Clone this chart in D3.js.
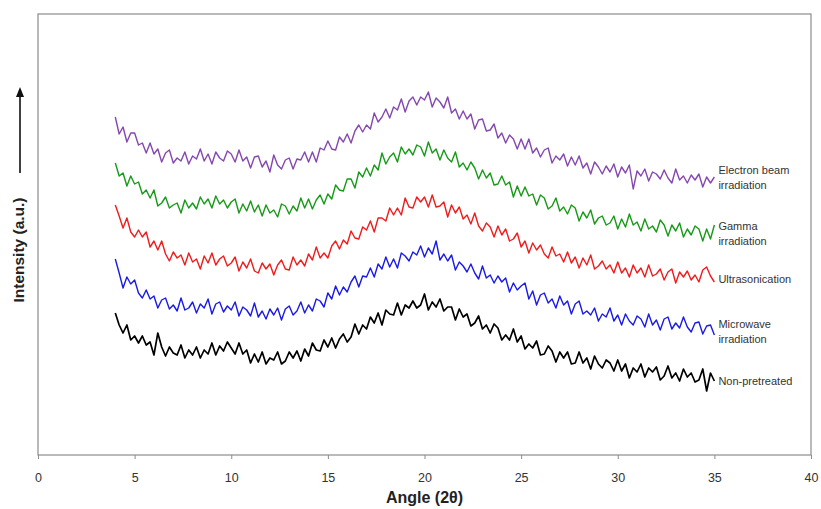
<!DOCTYPE html>
<html>
<head>
<meta charset="utf-8">
<script src="https://cdn.jsdelivr.net/npm/d3@7"></script>
<style>
  body { margin: 0; background: #fff; }
  svg { display: block; font-family: Arial, "Liberation Sans", sans-serif; }
</style>
</head>
<body>
<script>
const width = 821
const height = 509

// Angle (2θ) of each sample
const angles = [
  4.0,4.2,4.4,4.6,4.8, 5.0,5.2,5.4,5.6,5.8, 6.0,6.2,6.4,6.6,6.8, 7.0,7.2,7.4,7.6,7.8,
  8.0,8.2,8.4,8.6,8.8, 9.0,9.2,9.4,9.6,9.8, 10.0,10.2,10.4,10.6,10.8, 11.0,11.2,11.4,11.6,11.8,
  12.0,12.2,12.4,12.6,12.8, 13.0,13.2,13.4,13.6,13.8, 14.0,14.2,14.4,14.6,14.8, 15.0,15.2,15.4,15.6,15.8,
  16.0,16.2,16.4,16.6,16.8, 17.0,17.2,17.4,17.6,17.8, 18.0,18.2,18.4,18.6,18.8, 19.0,19.2,19.4,19.6,19.8,
  20.0,20.2,20.4,20.6,20.8, 21.0,21.2,21.4,21.6,21.8, 22.0,22.2,22.4,22.6,22.8, 23.0,23.2,23.4,23.6,23.8,
  24.0,24.2,24.4,24.6,24.8, 25.0,25.2,25.4,25.6,25.8, 26.0,26.2,26.4,26.6,26.8, 27.0,27.2,27.4,27.6,27.8,
  28.0,28.2,28.4,28.6,28.8, 29.0,29.2,29.4,29.6,29.8, 30.0,30.2,30.4,30.6,30.8, 31.0,31.2,31.4,31.6,31.8,
  32.0,32.2,32.4,32.6,32.8, 33.0,33.2,33.4,33.6,33.8, 34.0,34.2,34.4,34.6,34.8, 35.0
]

// intensities (a.u., curves stacked with offsets as in the figure)
const electronBeam = [
  338,321,328,313,322, 322,310,312,302,312, 301,306,293,302,305, 292,297,294,303,291,
  299,296,306,294,301, 291,303,297,294,304, 301,293,305,294,298, 287,298,299,288,294,
  283,300,290,286,295, 297,286,296,295,303, 293,303,293,307,305, 314,306,305,318,313,
  321,312,324,330,323, 330,326,342,333,338, 346,337,348,345,356, 343,354,358,350,358,
  355,363,348,357,353, 347,358,342,346,336, 344,336,341,326,335, 336,324,325,331,317,
  322,312,320,316,306, 316,306,316,302,307, 298,305,307,292,299, 295,301,289,298,290,
  299,287,292,281,293, 288,281,289,283,291, 278,288,282,290,266, 284,279,286,274,283,
  281,276,285,277,272, 286,275,279,272,280, 275,281,268,278,272, 278
]
const gamma = [
  292,279,282,269,279, 271,273,261,265,257, 265,249,252,258,247, 250,252,242,255,247,
  252,246,258,251,256, 247,259,251,255,247, 253,256,242,251,244, 254,243,250,239,250,
  242,245,238,251,249, 241,249,244,257,247, 256,246,255,260,251, 261,256,270,265,264,
  276,276,267,283,278, 287,279,290,285,302, 291,298,302,293,308, 301,306,300,310,308,
  299,313,302,306,295, 305,297,293,303,288, 292,285,293,287,276, 285,277,282,270,271,
  279,270,273,258,269, 259,268,259,261,250, 260,257,246,249,257, 244,248,241,250,247,
  234,243,237,245,231, 237,239,230,232,239, 226,236,228,241,230, 233,224,236,226,229,
  223,235,230,219,230, 224,232,218,226,220, 229,226,214,226,216, 230
]
const ultrasonication = [
  250,239,227,237,223, 218,225,218,223,208, 214,205,214,201,194, 203,197,200,190,202,
  193,196,186,199,192, 202,190,196,199,189, 192,198,184,193,187, 196,184,182,192,186,
  191,180,190,195,186, 185,198,190,195,189, 201,195,208,197,202, 197,209,214,206,215,
  211,224,217,216,228, 225,234,223,237,237, 234,247,240,247,240, 257,248,247,258,253,
  258,248,260,248,249, 253,238,250,242,248, 236,240,231,242,229, 224,232,228,218,229,
  220,226,214,216,222, 208,214,202,212,205, 210,201,197,208,199, 201,193,203,192,198,
  187,197,190,200,186, 189,194,186,190,182, 193,182,187,178,190, 182,187,178,190,179,
  181,186,175,183,186, 172,183,178,184,175, 180,173,185,188,179, 173
]
const microwave = [
  196,182,167,178,171, 175,162,157,165,156, 159,147,155,157,146, 150,144,157,145,147,
  153,142,151,147,156, 141,151,153,143,149, 145,153,139,148,145, 139,152,138,144,136,
  146,140,147,135,146, 149,140,144,153,142, 150,144,156,154,148, 162,156,169,160,168,
  163,173,179,168,179, 178,187,178,191,186, 198,188,196,187,202, 199,194,203,200,209,
  198,207,201,214,195, 201,194,200,185,193, 189,183,191,182,176, 189,177,180,172,179,
  173,177,163,172,165, 169,172,156,164,150, 160,162,152,156,147, 159,150,154,141,151,
  154,141,144,140,147, 134,141,138,147,134, 140,130,141,134,130, 139,136,128,141,130,
  135,125,136,138,126, 132,127,138,128,123, 132,133,121,129,130, 120
]
const nonPretreated = [
  142,130,122,130,115, 119,112,119,110,113, 100,122,108,99,108, 102,100,110,97,105,
  100,108,97,105,101, 112,100,109,104,113, 107,101,112,101,105, 92,101,93,103,91,
  97,95,103,91,94, 103,97,104,94,106, 99,112,105,104,115, 108,117,107,116,121,
  113,118,131,121,130, 126,138,132,142,130, 145,141,140,152,140, 150,147,154,147,150,
  161,145,153,148,156, 144,148,148,135,146, 138,141,129,132,139, 126,130,122,131,127,
  115,120,115,126,113, 119,106,111,107,114, 100,101,109,104,93, 103,97,103,91,92,
  103,92,97,86,99, 91,87,95,92,84, 95,84,91,77,87, 83,91,78,87,83,
  88,75,79,89,77, 82,74,86,78,82, 73,75,86,64,82, 74
]

const seriesNames = ["Electron beam irradiation", "Gamma irradiation", "Ultrasonication",
                     "Microwave irradiation", "Non-pretreated"]
const seriesValues = [electronBeam, gamma, ultrasonication, microwave, nonPretreated]
const seriesColors = ["#8547b0", "#179a17", "#ee1c1c", "#1a1ae6", "#000000"]
// label lines placed next to the end of each curve
const labelLines = [["Electron beam", "irradiation"], ["Gamma", "irradiation"], ["Ultrasonication"],
                    ["Microwave", "irradiation"], ["Non-pretreated"]]
const labelValues = [278, 222, 176, 124, 74]

const xTicks = [0, 5, 10, 15, 20, 25, 30, 35, 40]

const margin = {left: 38, right: 10, top: 14, bottom: 54}

const svg = d3.select("body").append("svg")
    .attr("width", width)
    .attr("height", height);

const x = d3.scaleLinear().domain([0, 40]).range([margin.left, width - margin.right]);
const y = d3.scaleLinear().domain([0, 441]).range([height - margin.bottom, margin.top]);

// plot frame
svg.append("rect")
    .attr("x", x(0))
    .attr("y", y(441))
    .attr("width", x(40) - x(0))
    .attr("height", y(0) - y(441))
    .attr("fill", "none")
    .attr("stroke", "#8c8c8c")
    .attr("stroke-width", 1.2);

// x axis
const xAxis = svg.append("g")
    .attr("transform", `translate(0,${y(0)})`)
    .call(d3.axisBottom(x).tickValues(xTicks).tickSize(4).tickPadding(14).tickFormat(d3.format("d")));
xAxis.select(".domain").remove();
xAxis.selectAll("line").attr("stroke", "#8c8c8c");
xAxis.selectAll("text").attr("font-size", 12.5).attr("fill", "#333")
    .attr("font-family", "Arial, 'Liberation Sans', sans-serif");

svg.append("text")
    .attr("x", (x(0) + x(40)) / 2)
    .attr("y", 503)
    .attr("text-anchor", "middle")
    .attr("font-size", 16)
    .attr("font-weight", "bold")
    .attr("fill", "#222")
    .text("Angle (2θ)");

// y axis title with arrow
svg.append("text")
    .attr("transform", "translate(24,250) rotate(-90)")
    .attr("text-anchor", "middle")
    .attr("font-size", 15.5)
    .attr("font-weight", "bold")
    .attr("fill", "#222")
    .text("Intensity (a.u.)");

svg.append("line")
    .attr("x1", 20).attr("x2", 20)
    .attr("y1", 173).attr("y2", 95)
    .attr("stroke", "#111")
    .attr("stroke-width", 1.6);
svg.append("path")
    .attr("d", "M20,87 L16,97 L24,97 Z")
    .attr("fill", "#111");

// curves
const line = d3.line()
    .x((d, i) => x(angles[i]))
    .y(d => y(d));

svg.selectAll("path.curve")
    .data(seriesValues)
    .enter()
    .append("path")
    .attr("class", "curve")
    .attr("d", line)
    .attr("fill", "none")
    .attr("stroke", (d, i) => seriesColors[i])
    .attr("stroke-width", (d, i) => i == 4 ? 1.7 : 1.4)
    .attr("stroke-linejoin", "round");

// labels next to curve ends
labelLines.forEach((lines, i) => {
    const t = svg.append("text")
        .attr("x", x(35) + 4)
        .attr("y", y(labelValues[i]) - (lines.length - 1) * 7.5 + 4)
        .attr("font-size", 11)
        .attr("fill", "#333");
    lines.forEach((s, j) => {
        t.append("tspan")
            .attr("x", x(35) + 4)
            .attr("dy", j == 0 ? 0 : 15)
            .text(s);
    });
});
</script>
</body>
</html>
